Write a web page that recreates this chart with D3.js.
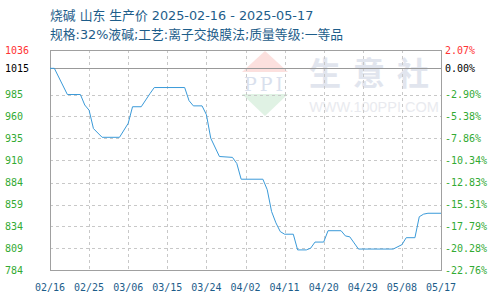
<!DOCTYPE html>
<html>
<head>
<meta charset="utf-8">
<script src="https://cdn.jsdelivr.net/npm/d3@7"></script>
<style>
  body { margin: 0; background: #fff; }
  svg { display: block; }
</style>
</head>
<body>
<div id="wrapper"></div>
<script>
const titleLine1 = "烧碱 山东 生产价 2025-02-16 - 2025-05-17"
const titleLine2 = "规格:32%液碱;工艺:离子交换膜法;质量等级:一等品"

const dates = ["2025-02-16", "2025-02-17", "2025-02-20", "2025-02-23", "2025-02-24", "2025-02-25",
  "2025-02-26", "2025-02-28", "2025-03-04", "2025-03-06", "2025-03-07", "2025-03-09",
  "2025-03-11", "2025-03-12", "2025-03-19", "2025-03-20", "2025-03-21", "2025-03-23",
  "2025-03-24", "2025-03-25", "2025-03-27", "2025-03-30", "2025-03-31", "2025-04-01",
  "2025-04-06", "2025-04-07", "2025-04-08", "2025-04-09", "2025-04-10", "2025-04-11",
  "2025-04-13", "2025-04-14", "2025-04-16", "2025-04-17", "2025-04-18", "2025-04-20",
  "2025-04-21", "2025-04-24", "2025-04-25", "2025-04-26", "2025-04-27", "2025-04-28",
  "2025-05-06", "2025-05-08", "2025-05-09", "2025-05-11", "2025-05-12", "2025-05-13",
  "2025-05-14", "2025-05-17"]
const prices = [1015, 1015, 985, 985, 973, 967,
  946, 936, 936, 952, 971, 971,
  986, 993, 993, 978, 972, 972,
  962, 935, 914, 913, 906, 888,
  888, 876, 851, 838, 828, 825,
  825, 807, 807, 809, 816, 816,
  829, 829, 823, 822, 815, 808,
  808, 813, 821, 821, 845, 848,
  849, 849]

const priceTicks = [1036, 1015, 985, 960, 935, 910, 884, 859, 834, 809, 784]
const percentTicks = ["2.07%", "0.00%", "-2.90%", "-5.38%", "-7.86%", "-10.34%",
  "-12.83%", "-15.31%", "-17.79%", "-20.28%", "-22.76%"]
const dateTicks = ["2025-02-16", "2025-02-25", "2025-03-06", "2025-03-15", "2025-03-24",
  "2025-04-02", "2025-04-11", "2025-04-20", "2025-04-29", "2025-05-08", "2025-05-17"]
const basePrice = 1015

const parseDate = d3.timeParse("%Y-%m-%d")
const dataset = dates.map((d, i) => ({ date: parseDate(d), price: prices[i] }))

const xAccessor = d => d.date
const yAccessor = d => d.price

let dimensions = {
  width: 490,
  height: 300,
  margin: { top: 50, right: 49, bottom: 30, left: 50 }
}
dimensions.boundedWidth = dimensions.width - dimensions.margin.left - dimensions.margin.right
dimensions.boundedHeight = dimensions.height - dimensions.margin.top - dimensions.margin.bottom

const monoFont = "'DejaVu Sans Mono', monospace"
const titleFont = "'DejaVu Sans', 'Noto Sans CJK SC', sans-serif"
const titleColor = "#1d5d8a"

const wrapper = d3.select("#wrapper")
  .append("svg")
    .attr("width", dimensions.width)
    .attr("height", dimensions.height)

// title
wrapper.append("text")
  .attr("x", 50).attr("y", 20)
  .attr("fill", titleColor)
  .style("font-family", titleFont)
  .style("font-size", "12.8px")
  .text(titleLine1)
wrapper.append("text")
  .attr("x", 50).attr("y", 39)
  .attr("fill", titleColor)
  .style("font-family", titleFont)
  .style("font-size", "12.8px")
  .text(titleLine2)

const bounds = wrapper.append("g")
  .attr("transform", `translate(${dimensions.margin.left},${dimensions.margin.top})`)

const xScale = d3.scaleTime()
  .domain(d3.extent(dataset, xAccessor))
  .range([0, dimensions.boundedWidth])

const yScale = d3.scaleLinear()
  .domain([784, 1036])
  .range([dimensions.boundedHeight, 0])

// watermark
const wm = bounds.append("g").attr("opacity", 0.75)
const lx = 215, ly = 1
wm.append("path")
  .attr("d", `M${lx},${ly} L${lx + 23},${ly + 21} L${lx - 23},${ly + 21} Z`)
  .attr("fill", "#fbd6d3")
wm.append("path")
  .attr("d", `M${lx - 23},${ly + 43} L${lx + 23},${ly + 43} L${lx},${ly + 65} Z`)
  .attr("fill", "#d6eedb")
wm.append("text")
  .attr("x", lx).attr("y", ly + 40)
  .attr("text-anchor", "middle")
  .attr("fill", "#cdd6e8")
  .style("font-family", "'DejaVu Serif', serif")
  .style("font-size", "19px")
  .style("letter-spacing", "3px")
  .text("PPI")
wm.append("text")
  .attr("x", 325).attr("y", 35)
  .attr("text-anchor", "middle")
  .attr("fill", "#d8dde9")
  .style("font-family", "'Noto Sans CJK SC', sans-serif")
  .style("font-size", "32px")
  .style("font-weight", "bold")
  .style("letter-spacing", "12px")
  .text("生意社")
wm.append("text")
  .attr("x", 324).attr("y", 62)
  .attr("text-anchor", "middle")
  .attr("fill", "#e2e4ea")
  .style("font-family", "'Liberation Sans', sans-serif")
  .style("font-size", "14.5px")
  .text("WWW.100PPI.COM")

// grid
const tickDates = dateTicks.map(parseDate)
bounds.append("g").selectAll("line")
  .data(tickDates.slice(1, -1))
  .join("line")
    .attr("x1", d => Math.round(xScale(d)) + 0.5)
    .attr("x2", d => Math.round(xScale(d)) + 0.5)
    .attr("y1", 0)
    .attr("y2", dimensions.boundedHeight)
    .attr("stroke", "#c8c8c8")
    .attr("stroke-dasharray", "3,3")

bounds.append("g").selectAll("line")
  .data(priceTicks.filter(d => d !== basePrice && d !== 1036 && d !== 784))
  .join("line")
    .attr("x1", 0)
    .attr("x2", dimensions.boundedWidth)
    .attr("y1", d => Math.round(yScale(d)) + 0.5)
    .attr("y2", d => Math.round(yScale(d)) + 0.5)
    .attr("stroke", "#c8c8c8")
    .attr("stroke-dasharray", "3,3")

// base line
bounds.append("line")
  .attr("x1", 0).attr("x2", dimensions.boundedWidth)
  .attr("y1", Math.round(yScale(basePrice)) + 0.5)
  .attr("y2", Math.round(yScale(basePrice)) + 0.5)
  .attr("stroke", "#999")

// frame
bounds.append("rect")
  .attr("x", 0.5).attr("y", 0.5)
  .attr("width", dimensions.boundedWidth)
  .attr("height", dimensions.boundedHeight)
  .attr("fill", "none")
  .attr("stroke", "#a0a0a0")

// line
const lineGenerator = d3.line()
  .x(d => xScale(xAccessor(d)))
  .y(d => yScale(yAccessor(d)))

bounds.append("path")
  .datum(dataset)
  .attr("d", lineGenerator)
  .attr("fill", "none")
  .attr("stroke", "#3a9ad9")
  .attr("stroke-width", 1)

// y labels
const tickColor = (d, i) => i === 0 ? "#ff3333" : d === basePrice ? "#000" : "#33aa33"

wrapper.append("g").selectAll("text")
  .data(priceTicks)
  .join("text")
    .attr("x", 5)
    .attr("y", d => dimensions.margin.top + yScale(d))
    .attr("dy", "0.35em")
    .attr("fill", tickColor)
    .style("font-family", monoFont)
    .style("font-size", "10px")
    .text(d => d)

wrapper.append("g").selectAll("text")
  .data(priceTicks)
  .join("text")
    .attr("x", 445)
    .attr("y", d => dimensions.margin.top + yScale(d))
    .attr("dy", "0.35em")
    .attr("fill", tickColor)
    .style("font-family", monoFont)
    .style("font-size", "10px")
    .text((d, i) => percentTicks[i])

// x labels
const dateFormat = d3.timeFormat("%m/%d")
wrapper.append("g").selectAll("text")
  .data(tickDates)
  .join("text")
    .attr("x", d => dimensions.margin.left + xScale(d))
    .attr("y", 287)
    .attr("dy", "0.35em")
    .attr("text-anchor", "middle")
    .attr("fill", titleColor)
    .style("font-family", monoFont)
    .style("font-size", "10px")
    .text(dateFormat)
</script>
</body>
</html>
